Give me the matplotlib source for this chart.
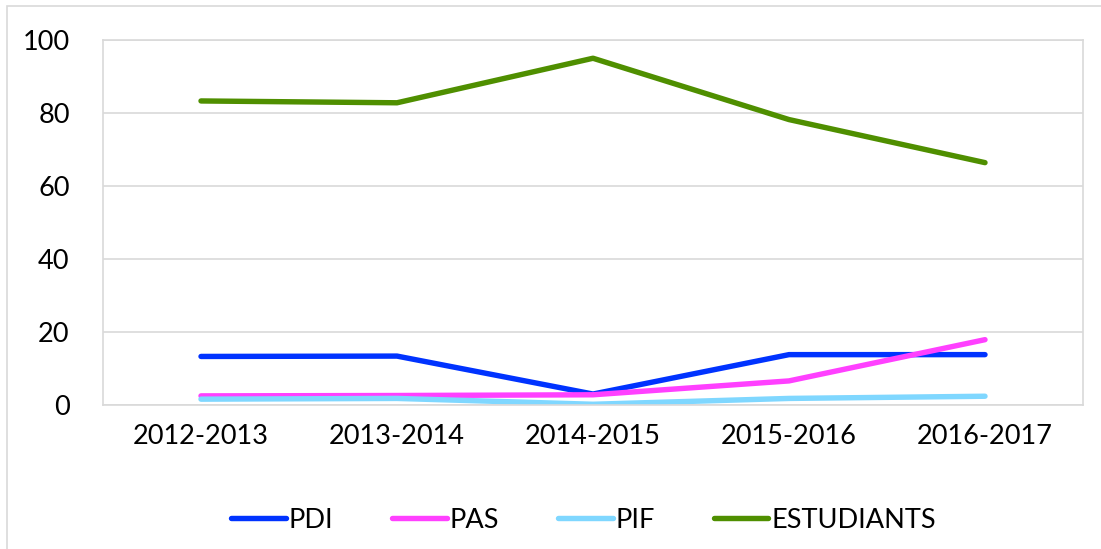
import numpy as np
import matplotlib.pyplot as plt
from matplotlib.patches import Rectangle

plt.rcParams['font.family'] = ['Lato', 'DejaVu Sans']

# dades
cursos = ['2012-2013', '2013-2014', '2014-2015', '2015-2016', '2016-2017']
pdi = [13.3, 13.4, 3.0, 13.8, 13.8]
pas = [2.5, 2.6, 2.8, 6.6, 17.9]
pif = [1.6, 1.8, 0.2, 1.8, 2.4]
estudiants = [83.3, 82.8, 95.0, 78.2, 66.4]

series = [('PDI', pdi, '#0033FF'),
          ('PAS', pas, '#FF40FF'),
          ('PIF', pif, '#7FD7FF'),
          ('ESTUDIANTS', estudiants, '#4F8F00')]

fig = plt.figure(figsize=(11.01, 5.49), dpi=100)
ax = fig.add_axes([103 / 1101, 1 - 405 / 549, 980 / 1101, 365 / 549])

# marc exterior
fig.patches.append(Rectangle((7 / 1101, -0.01), 1.02, 1 - 6 / 549 + 0.01,
                             transform=fig.transFigure, fill=False,
                             edgecolor='#D9D9D9', linewidth=1.2))

x = np.arange(len(cursos))
for nom, vals, col in series:
    ax.plot(x, vals, color=col, linewidth=3.9, solid_capstyle='round',
            solid_joinstyle='round', label=nom)

ax.set_xlim(-0.5, len(cursos) - 0.5)
ax.set_ylim(0, 100)
ax.set_yticks(np.arange(0, 101, 20))
ax.set_xticks(x)
ax.set_xticklabels(cursos)
ax.tick_params(length=0, labelsize=19.5, pad=14)
ax.tick_params(axis='y', pad=24)
ax.grid(axis='y', color='#D9D9D9', linewidth=1.2)
ax.set_axisbelow(True)
for s in ax.spines.values():
    s.set_color('#D9D9D9')
    s.set_linewidth(1.2)

fig.legend(loc='center', bbox_to_anchor=(0.53, 1 - 520 / 549), ncol=4,
           frameon=False, fontsize=19.5, handlelength=2.0, handletextpad=0.1,
           columnspacing=2.2)

fig.savefig('out.png', dpi=100)
